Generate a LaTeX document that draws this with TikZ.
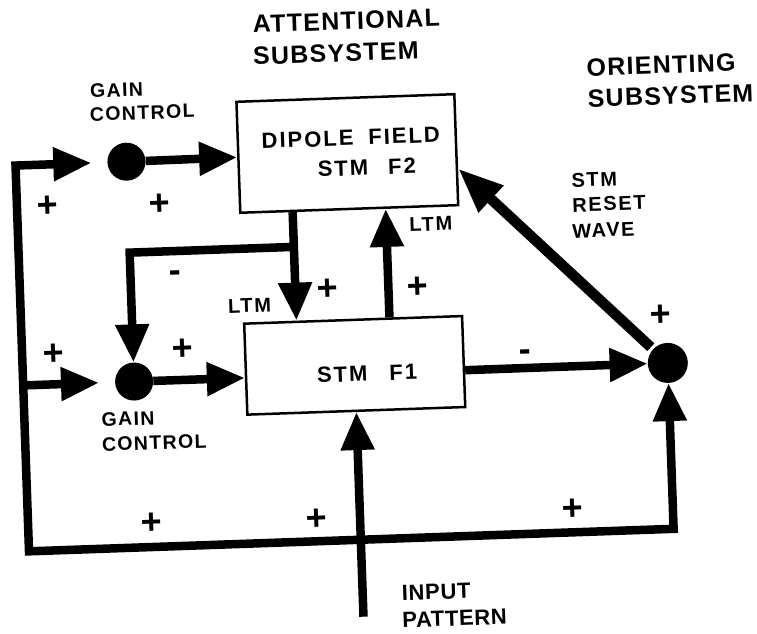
\documentclass[tikz,border=0pt]{standalone}
\usepackage{fontspec}
\setmainfont{Liberation Sans}
\usetikzlibrary{arrows.meta,calc}
\newcommand\fsz[2]{\fontsize{#1}{#1}\selectfont\bfseries\addfontfeatures{LetterSpace=#2}}
\begin{document}
\begin{tikzpicture}[x=1pt,y=-1pt,
  >={Triangle[length=38pt,width=32pt]},
  conn/.style={line width=8.5pt,line join=miter},
  blk/.style={circle,fill=black,inner sep=0pt,minimum size=38pt},
  box/.style={draw,line width=2.5pt,inner sep=0pt,minimum width=218pt},
  txt/.style={inner sep=0pt,anchor=west},
  ctr/.style={inner sep=0pt,anchor=center},
  sgn/.style={inner sep=0pt,font=\fsz{36}{0},yshift=-2pt}]
\useasboundingbox (0,0) rectangle (757,633);
\begin{scope}[rotate around={2:(378,316)},transform shape]
% boxes and junctions
\node[box,minimum height=111pt] (F2) at (353,152.5) {};
\node[box,minimum height=91pt] (F1) at (353,364.5) {};
\node[blk] (gtop) at (132,153) {};
\node[blk] (gbot) at (132,373) {};
\node[blk,minimum size=40pt] (orient) at (666,373) {};
\coordinate (TL) at (21,153);
\coordinate (BL) at (21,539);
\coordinate (BR) at (666,539);
\coordinate (LJ) at (21,373);
\coordinate (BJ) at (297,244);
\coordinate (BC) at (132,244);
\coordinate (IN) at (353,616);
\coordinate (F2d) at ($(F2.south west)!0.243!(F2.south east)$);
\coordinate (F1d) at ($(F1.north west)!0.243!(F1.north east)$);
\coordinate (F1u) at ($(F1.north west)!0.665!(F1.north east)$);
\coordinate (F2u) at ($(F2.south west)!0.665!(F2.south east)$);
\coordinate (F1in) at ($(F1.north west)!0.593!(F1.south west)$);
\coordinate (F1out) at ($(F1.north east)!0.593!(F1.south east)$);
\coordinate (RT) at ($(F2.north east)!0.667!(F2.south east)$);
% connectors
\draw[conn,<->,shorten <=16pt] (gtop) -- (TL) -- (BL) -- (BR) -- (orient);
\draw[conn,->,shorten >=16pt] (LJ) -- (gbot);
\draw[conn,->] (gtop) -- (F2.west);
\draw[conn,->] (gbot) -- (F1in);
\draw[conn,->] (F2d) -- (F1d);
\draw[conn,->] (BJ) -- (BC) -- (gbot);
\draw[conn,->] (F1u) -- (F2u);
\draw[conn,->] (IN) -- (F1.south);
\draw[conn,->] (F1out) -- (orient);
\draw[line width=10.5pt,-{Triangle[length=45pt,width=34pt]},shorten <=3pt] (orient) -- (RT);
% titles
\node[txt,font=\fsz{25}{5}] (att1) at (263,20) {ATTENTIONAL};
\node[txt,font=\fsz{25}{5}] (att2) at (262,52) {SUBSYSTEM};
\node[txt,font=\fsz{25}{5}] (ori1) at (595,75) {ORIENTING};
\node[txt,font=\fsz{25}{5}] (ori2) at (595,106) {SUBSYSTEM};
% labels
\node[txt,font=\fsz{19.5}{7}] (gc1) at (98,81) {GAIN};
\node[txt,font=\fsz{19.5}{7}] (gc2) at (97,104.5) {CONTROL};
\node[txt,font=\fsz{19.5}{7}] (gc3) at (98,410) {GAIN};
\node[txt,font=\fsz{19.5}{7}] (gc4) at (97.5,435) {CONTROL};
\node[ctr,font=\fsz{22}{9}] (dip) at (357,137) {DIPOLE\hspace{15pt}FIELD};
\node[ctr,font=\fsz{22}{9}] (stm2) at (372,167) {STM\hspace{20pt}F2};
\node[ctr,font=\fsz{22}{9}] (stm1) at (365,373) {STM\hspace{22pt}F1};
\node[ctr,font=\fsz{20}{8}] (ltm1) at (250,301) {LTM};
\node[ctr,font=\fsz{20}{8}] (ltm2) at (434,226) {LTM};
\node[txt,font=\fsz{20}{8}] (rw1) at (576,187) {STM};
\node[txt,font=\fsz{20}{8}] (rw2) at (576,212) {RESET};
\node[txt,font=\fsz{20}{8}] (rw3) at (575,238) {WAVE};
\node[txt,font=\fsz{22}{3}] (ip1) at (392,594) {INPUT};
\node[txt,font=\fsz{22}{3}] (ip2) at (391.5,621) {PATTERN};
% signs
\node[sgn] (s1) at (52,193.5) {+};
\node[sgn] (s2) at (164,195.5) {+};
\node[sgn,yshift=-1.5pt] (s3) at (176.5,266) {-};
\node[sgn] (s4) at (329,286) {+};
\node[sgn] (s5) at (419,286.5) {+};
\node[sgn] (s6) at (52,341.5) {+};
\node[sgn] (s7) at (182,341) {+};
\node[sgn] (s8) at (145,514) {+};
\node[sgn] (s9) at (310,515) {+};
\node[sgn] (s10) at (660,323) {+};
\node[sgn,yshift=-1.5pt] (s11) at (524,357) {-};
\node[sgn] (s12) at (566,514) {+};
\end{scope}
\end{tikzpicture}
\end{document}
